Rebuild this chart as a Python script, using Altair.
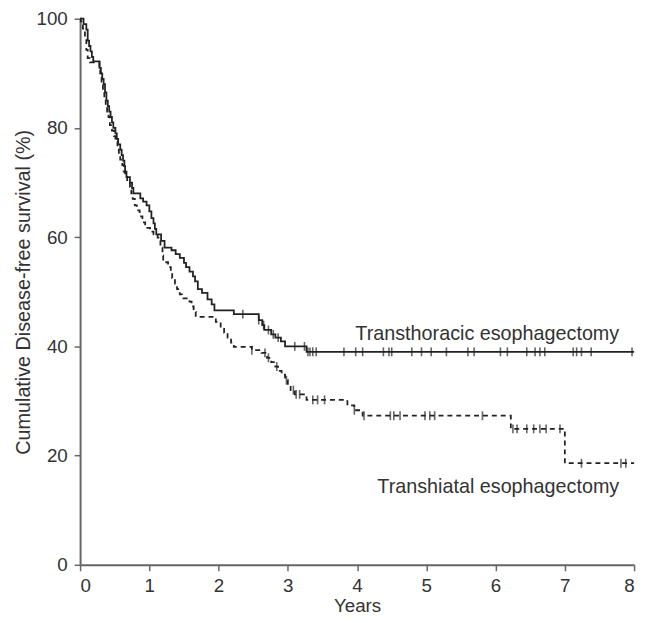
import altair as alt
import pandas as pd

# Transthoracic esophagectomy (solid) - step points (years, % disease-free)
tte_time = [0.00, 0.05, 0.09, 0.11, 0.13, 0.15, 0.17, 0.19, 0.28, 0.30, 0.32, 0.34, 0.36, 0.38,
            0.40, 0.42, 0.44, 0.46, 0.48, 0.51, 0.53, 0.55, 0.58, 0.60, 0.62, 0.64, 0.65, 0.67,
            0.72, 0.75, 0.77, 0.87, 0.91, 0.96, 1.00, 1.03, 1.06, 1.08, 1.10, 1.17, 1.22, 1.32,
            1.38, 1.44, 1.50, 1.53, 1.58, 1.63, 1.66, 1.70, 1.76, 1.84, 1.90, 1.94, 2.22, 2.58,
            2.63, 2.66, 2.76, 2.82, 2.90, 2.96, 3.27, 8.00]
tte_surv = [100, 99, 98, 96, 95, 94, 93, 92.2, 91, 90, 89, 88, 86.5, 85,
            84, 83, 82, 81, 80, 79, 78, 77, 76, 75, 74, 73, 72, 71,
            70, 69, 68, 67.1, 66.5, 65.8, 64.7, 63.5, 62.5, 61.5, 60.5, 59.3, 58.1, 57.6,
            56.9, 56.2, 55.3, 54.5, 53.7, 52.8, 51.9, 50.5, 49.8, 48.6, 47.7, 46.6, 45.9, 44.8,
            43.9, 43.0, 42.2, 41.6, 40.9, 40.0, 39.0, 39.0]

# Transhiatal esophagectomy (dashed)
the_time = [0.00, 0.01, 0.04, 0.07, 0.09, 0.11, 0.14, 0.28, 0.29, 0.31, 0.33, 0.35, 0.37, 0.39,
            0.41, 0.43, 0.46, 0.49, 0.51, 0.54, 0.56, 0.58, 0.61, 0.63, 0.65, 0.68, 0.72, 0.74,
            0.76, 0.79, 0.82, 0.86, 0.90, 0.94, 1.01, 1.06, 1.12, 1.16, 1.19, 1.20, 1.27, 1.31,
            1.33, 1.37, 1.40, 1.44, 1.47, 1.58, 1.61, 1.64, 1.67, 1.96, 2.03, 2.08, 2.13, 2.18,
            2.22, 2.48, 2.62, 2.70, 2.76, 2.82, 2.86, 2.91, 2.96, 3.00, 3.04, 3.10, 3.27, 3.86,
            3.96, 4.08, 6.22, 7.00, 8.00]
the_surv = [100, 99.5, 98.2, 96.4, 94.3, 92.8, 92.0, 91, 90, 88.5, 87, 85.5, 84, 83,
            82, 80.5, 79.5, 78.5, 77.4, 76, 75, 74.2, 73.2, 72, 71.2, 70.2, 69.2, 68,
            67, 65.8, 64.9, 63.8, 62.7, 61.7, 61.0, 60.5, 59.9, 58.1, 56.6, 55.4, 54.5, 53.5,
            52.5, 51.5, 50.5, 49.5, 48.8, 48.2, 47.3, 46.3, 45.4, 44.5, 43.4, 42.5, 41.6, 40.7,
            39.9, 39.3, 38.8, 37.9, 37.1, 36.3, 35.5, 34.8, 33.8, 32.8, 32.0, 31.2, 30.2, 29.2,
            28.3, 27.3, 24.9, 18.6, 18.6]

# Censoring times
tte_censor = [2.35, 2.58, 2.65, 2.72, 2.79, 2.86, 3.10, 3.24, 3.29, 3.32, 3.36, 3.41, 3.81, 3.98,
              4.08, 4.38, 4.46, 4.50, 4.79, 4.93, 5.07, 5.29, 5.60, 5.69, 6.07, 6.17, 6.45, 6.57,
              6.64, 6.71, 7.12, 7.17, 7.24, 7.38, 7.97]
the_censor = [2.48, 2.67, 2.72, 2.84, 2.98, 3.08, 3.12, 3.17, 3.36, 3.43, 3.53, 3.96, 4.10, 4.48,
              4.53, 4.62, 4.98, 5.05, 5.12, 5.81, 6.25, 6.31, 6.45, 6.55, 6.64, 6.73, 6.93, 7.24,
              7.81, 7.88]

label_text = ["Transthoracic esophagectomy", "Transhiatal esophagectomy"]
label_x = [7.785, 7.785]
label_y = [41.2, 13.2]

FONT = "Liberation Sans"
INK = "#222222"


def surv_at(times, survs, t):
    s = survs[0]
    for tt, ss in zip(times, survs):
        if tt <= t:
            s = ss
        else:
            break
    return s


tte_df = pd.DataFrame({"t": tte_time, "s": tte_surv})
the_df = pd.DataFrame({"t": the_time, "s": the_surv})
cens_df = pd.DataFrame({
    "t": tte_censor + the_censor,
    "s": [surv_at(tte_time, tte_surv, c) for c in tte_censor]
         + [surv_at(the_time, the_surv, c) for c in the_censor],
})
lab_df = pd.DataFrame({"x": label_x, "y": label_y, "txt": label_text})

xs = alt.Scale(domain=[0, 8], nice=False, zero=False)
ys = alt.Scale(domain=[0, 100], nice=False)

xax = alt.Axis(values=list(range(0, 9)), title="Years", grid=False, format="d")
yax = alt.Axis(values=[0, 20, 40, 60, 80, 100], title="Cumulative Disease-free survival (%)",
               grid=False, format="d")

solid = alt.Chart(tte_df).mark_line(interpolate="step-after", color=INK, strokeWidth=1.8).encode(
    x=alt.X("t:Q", scale=xs, axis=xax),
    y=alt.Y("s:Q", scale=ys, axis=yax),
)
dashed = alt.Chart(the_df).mark_line(interpolate="step-after", color=INK, strokeWidth=1.8,
                                     strokeDash=[5, 4]).encode(
    x=alt.X("t:Q", scale=xs),
    y=alt.Y("s:Q", scale=ys),
)
ticks = alt.Chart(cens_df).mark_tick(orient="vertical", size=9, thickness=1.6, color=INK).encode(
    x=alt.X("t:Q", scale=xs),
    y=alt.Y("s:Q", scale=ys),
)
labels = alt.Chart(lab_df).mark_text(align="right", baseline="alphabetic", font=FONT,
                                     fontSize=20, color="#333333").encode(
    x=alt.X("x:Q", scale=xs),
    y=alt.Y("y:Q", scale=ys),
    text="txt:N",
)

chart = alt.layer(solid, dashed, ticks, labels).properties(
    width=561,
    height=553,
    autosize=alt.AutoSizeParams(type="none"),
    padding={"left": 73, "top": 7, "right": 8, "bottom": 47},
).configure_view(stroke=None).configure_axis(
    domainColor="#666666", domainWidth=2, tickColor="#666666", tickWidth=1.5, tickSize=6,
    labelFont=FONT, labelFontSize=19, labelColor="#333333", labelPadding=6,
    titleFont=FONT, titleFontSize=19, titleFontWeight="normal", titleColor="#333333",
).configure_axisX(titlePadding=1).configure_axisY(titlePadding=3, titleFontSize=20, labelPadding=7)

chart.save("out.html", embed_options={"renderer": "svg", "actions": False})
